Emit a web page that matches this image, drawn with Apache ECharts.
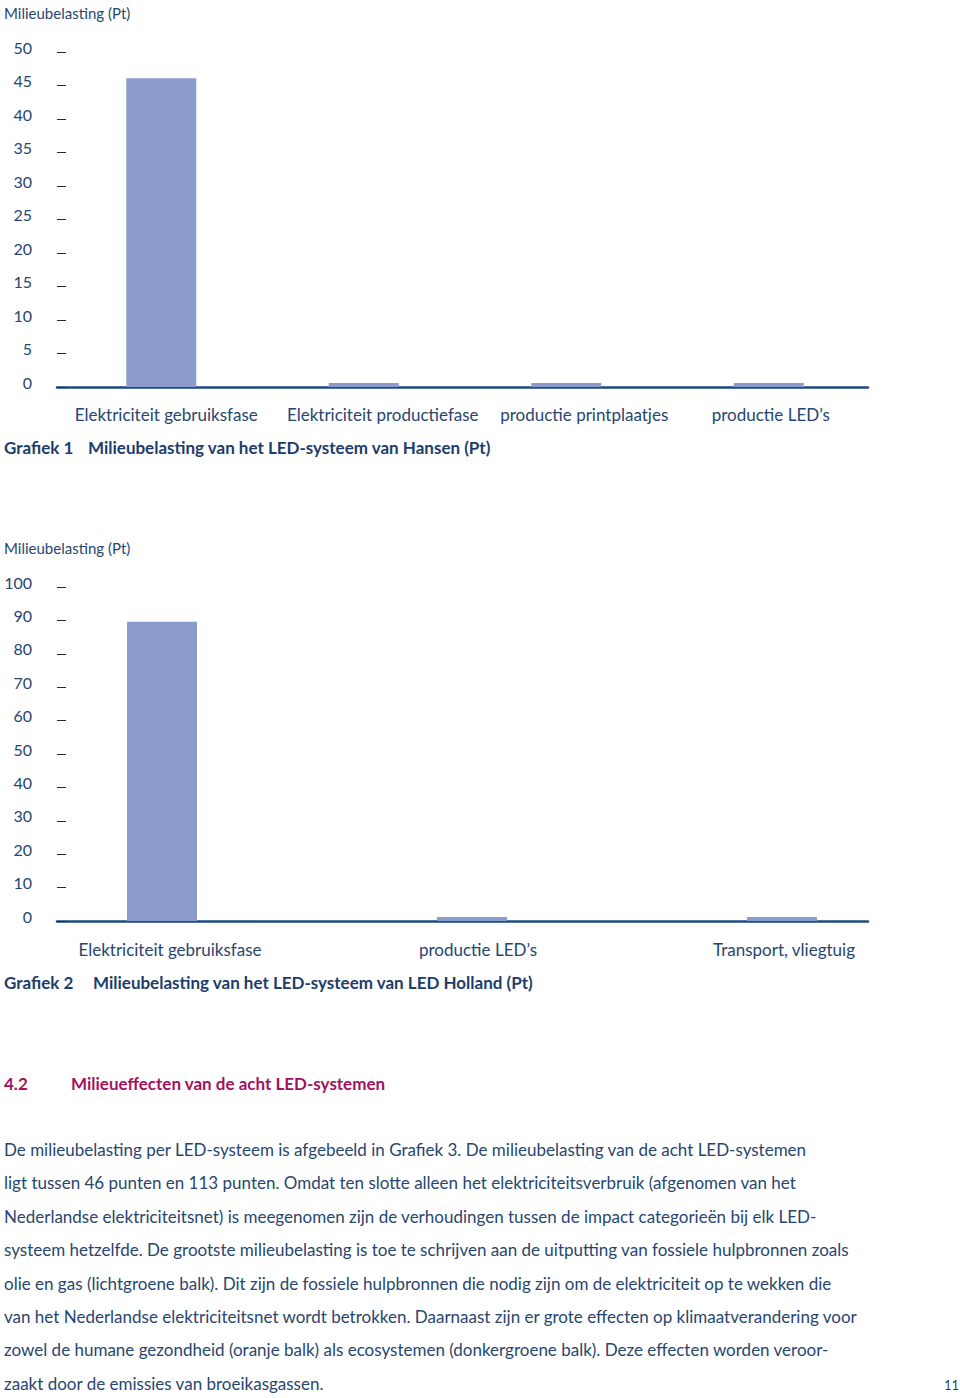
<!DOCTYPE html>
<html><head><meta charset="utf-8">
<script src="https://cdn.jsdelivr.net/npm/echarts@6/dist/echarts.min.js"></script>
<style>html,body{margin:0;padding:0;background:#fff}#c{width:960px;height:1398px}</style>
</head><body><div id="c"></div>
<script>
// ---- data ----
const yTitle = 'Milieubelasting (Pt)';
const cats1 = ['Elektriciteit gebruiksfase', 'Elektriciteit productiefase', 'productie printplaatjes', 'productie LED\u2019s'];
const vals1 = [46.1, 0.6, 0.6, 0.6];
const cats2 = ['Elektriciteit gebruiksfase', 'productie LED\u2019s', 'Transport, vliegtuig'];
const vals2 = [89.6, 1.2, 1.2];
const yMax1 = 50, yStep1 = 5;
const yMax2 = 100, yStep2 = 10;
const caption1 = ['Grafiek 1', 'Milieubelasting van het LED-systeem van Hansen (Pt)'];
const caption2 = ['Grafiek 2', 'Milieubelasting van het LED-systeem van LED Holland (Pt)'];
const heading = ['4.2', 'Milieueffecten van de acht LED-systemen'];
const paragraph = [
 'De milieubelasting per LED-systeem is afgebeeld in Grafiek 3. De milieubelasting van de acht LED-systemen',
 'ligt tussen 46 punten en 113 punten. Omdat ten slotte alleen het elektriciteitsverbruik (afgenomen van het',
 'Nederlandse elektriciteitsnet) is meegenomen zijn de verhoudingen tussen de impact categorieën bij elk LED-',
 'systeem hetzelfde. De grootste milieubelasting is toe te schrijven aan de uitputting van fossiele hulpbronnen zoals',
 'olie en gas (lichtgroene balk). Dit zijn de fossiele hulpbronnen die nodig zijn om de elektriciteit op te wekken die',
 'van het Nederlandse elektriciteitsnet wordt betrokken. Daarnaast zijn er grote effecten op klimaatverandering voor',
 'zowel de humane gezondheid (oranje balk) als ecosystemen (donkergroene balk). Deze effecten worden veroor-',
 'zaakt door de emissies van broeikasgassen.'
];
const pageNo = '11';

// ---- styles ----
const FONT = 'Lato';
const TXT = '#27466f';
const DARK = '#1c3d6b';
const AXIS = '#1b4a84';
const BAR = '#8b9bcb';
// horizontal nudge (px) of each category label, as in the original layout
const nudge1 = [5, 19, 18, 2];
const nudge2 = [8, 6, 2];

const chart = echarts.init(document.getElementById('c'), null, {renderer: 'svg'});

function frameAxes(gi, max, step) {
  return {
    x: {type: 'value', gridIndex: gi, min: 0, max: 1, axisLine: {show: true, lineStyle: {color: AXIS, width: 2.5}},
        axisTick: {show: false}, axisLabel: {show: false}, splitLine: {show: false}},
    y: {type: 'value', gridIndex: gi, min: 0, max: max, interval: step,
        axisLine: {show: false}, splitLine: {show: false},
        axisTick: {show: true, inside: true, length: 9, lineStyle: {color: '#2b2b2b', width: 1}},
        axisLabel: {color: TXT, fontFamily: FONT, fontSize: 16, margin: 25, verticalAlign: 'bottom', lineHeight: 10}}
  };
}
function barAxes(gi, cats, nudge, max, margin) {
  return {
    x: {type: 'category', gridIndex: gi,
        data: cats.map((c, i) => ({value: c, textStyle: {padding: [0, 0, 0, 2 * nudge[i]]}})),
        axisLine: {show: false}, axisTick: {show: false},
        axisLabel: {color: TXT, fontFamily: FONT, fontSize: 17, margin: margin, interval: 0}},
    y: {type: 'value', gridIndex: gi, min: 0, max: max, show: false}
  };
}
const f1 = frameAxes(0, yMax1, yStep1), b1 = barAxes(1, cats1, nudge1, yMax1, 19);
const f2 = frameAxes(2, yMax2, yStep2), b2 = barAxes(3, cats2, nudge2, yMax2, 20);

const gText = [];
function txt(x, y, s, style) {
  gText.push({type: 'text', left: x, top: y, silent: true,
    style: Object.assign({text: s, fill: TXT, font: '16px ' + FONT}, style)});
}
txt(4, 5, yTitle, {font: '15px ' + FONT});
txt(4, 540, yTitle, {font: '15px ' + FONT});
txt(4, 439, caption1[0], {fill: DARK, font: 'bold 17px ' + FONT});
txt(88, 439, caption1[1], {fill: DARK, font: 'bold 17px ' + FONT});
txt(4, 974, caption2[0], {fill: DARK, font: 'bold 17px ' + FONT});
txt(93, 974, caption2[1], {fill: DARK, font: 'bold 17px ' + FONT});
txt(4, 1075, heading[0], {fill: '#a3125e', font: 'bold 17px ' + FONT});
txt(71, 1075, heading[1], {fill: '#a3125e', font: 'bold 17px ' + FONT});
paragraph.forEach((l, i) => txt(4, 1141 + i * 33.4, l, {font: '17px ' + FONT}));
txt(944, 1378, pageNo, {font: '13px ' + FONT});

chart.setOption({
  animation: false,
  grid: [
    {left: 57, right: 92, top: 52, height: 335},
    {left: 60, right: 90, top: 52, height: 335},
    {left: 57, right: 92, top: 587, height: 334},
    {left: 7, right: 23, top: 587, height: 334}
  ],
  xAxis: [f1.x, b1.x, f2.x, b2.x],
  yAxis: [f1.y, b1.y, f2.y, b2.y],
  series: [
    {type: 'bar', xAxisIndex: 1, yAxisIndex: 1, data: vals1, barWidth: 70, itemStyle: {color: BAR}, z: 1},
    {type: 'bar', xAxisIndex: 3, yAxisIndex: 3, data: vals2, barWidth: 70, itemStyle: {color: BAR}, z: 1}
  ],
  graphic: gText
});
</script></body></html>
